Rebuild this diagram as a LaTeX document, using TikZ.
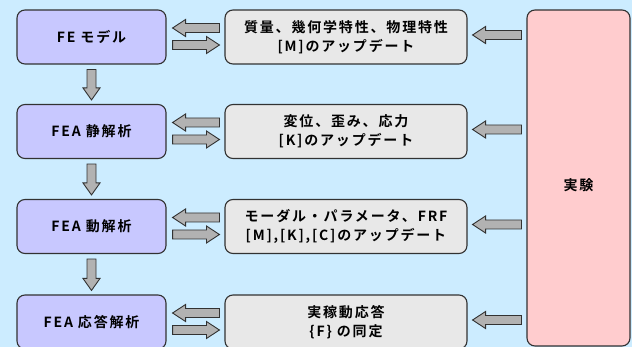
\documentclass[tikz,border=0pt]{standalone}
\usepackage{fontspec}
\setmainfont{Noto Sans CJK JP}[BoldFont={Noto Sans CJK JP Bold}, LetterSpace=13]
\usetikzlibrary{calc}
\definecolor{bgblue}{RGB}{204,236,255}
\definecolor{lav}{RGB}{200,200,255}
\definecolor{lgray}{RGB}{232,232,232}
\definecolor{lpink}{RGB}{255,204,206}
\definecolor{agray}{RGB}{178,178,178}
\definecolor{edge}{RGB}{50,50,50}
\tikzset{
  boxbase/.style={draw=edge, line width=1.1pt, rounded corners=8pt, inner sep=0pt,
    align=center, font=\bfseries\fontsize{14}{18.5}\selectfont},
  lbox/.style={boxbase, fill=lav, minimum width=149pt, minimum height=54pt},
  mbox/.style={boxbase, fill=lgray, minimum width=242pt, minimum height=54pt},
  ebox/.style={boxbase, fill=lpink, minimum width=103pt, minimum height=336pt},
  barrow/.style={draw=edge, line width=0.9pt, fill=agray, line join=miter},
}
% horizontal block arrow from #1 (tail) to #2 (tip)
\newcommand\harrow[2]{%
  \draw[barrow] let \p1=(#1), \p2=(#2), \n1={sign(\x2-\x1)*13} in
    (\x1,\y1+4.5pt) -- (\x2-\n1,\y1+4.5pt) -- (\x2-\n1,\y1+8.5pt) -- (\x2,\y1)
    -- (\x2-\n1,\y1-8.5pt) -- (\x2-\n1,\y1-4.5pt) -- (\x1,\y1-4.5pt) -- cycle;}
% vertical block arrow from #1 (tail) to #2 (tip)
\newcommand\varrow[2]{%
  \draw[barrow] let \p1=(#1), \p2=(#2), \n1={sign(\y2-\y1)*12} in
    (\x1+4.5pt,\y1) -- (\x1+4.5pt,\y2-\n1) -- (\x1+8.5pt,\y2-\n1) -- (\x1,\y2)
    -- (\x1-8.5pt,\y2-\n1) -- (\x1-4.5pt,\y2-\n1) -- (\x1-4.5pt,\y1) -- cycle;}
\begin{document}
\begin{tikzpicture}[x=1pt,y=-1pt]
\fill[bgblue] (0,0) rectangle (632,347);
\useasboundingbox (0,0) rectangle (632,347);

\node[lbox] (f1) at (91.5,37) {FE モデル};
\node[lbox] (f2) at (91.5,131.5) {FEA 静解析};
\node[lbox] (f3) at (91.5,226.5) {FEA 動解析};
\node[lbox] (f4) at (91.5,322) {FEA 応答解析};

\node[mbox] (m1) at (346,37) {質量、幾何学特性、物理特性\\{[M]}のアップデート};
\node[mbox] (m2) at (346,131.5) {変位、歪み、応力\\{[K]}のアップデート};
\node[mbox] (m3) at (346,226.5) {モーダル・パラメータ、FRF\\{[M],[K],[C]}のアップデート};
\node[mbox] (m4) at (346,322) {実稼動応答\\\{F\} の同定};

\node[ebox] (e) at (578.5,178) {};
\node[font=\bfseries\fontsize{14}{18}\selectfont] (et) at (578.5,185) {実験};

\foreach \i in {1,2,3,4}{
  \harrow{$(m\i.west)+(-5,-9)$}{$(f\i.east)+(6,-9)$}
  \harrow{$(f\i.east)+(6,8)$}{$(m\i.west)+(-5,8)$}
  \harrow{$(e.west |- m\i.center)+(-5,-2)$}{$(m\i.east)+(5,-2)$}
}
\varrow{$(f1.south)+(0,5)$}{$(f2.north)+(0,-4)$}
\varrow{$(f2.south)+(0,5)$}{$(f3.north)+(0,-4)$}
\varrow{$(f3.south)+(0,5)$}{$(f4.north)+(0,-4)$}
\end{tikzpicture}
\end{document}
